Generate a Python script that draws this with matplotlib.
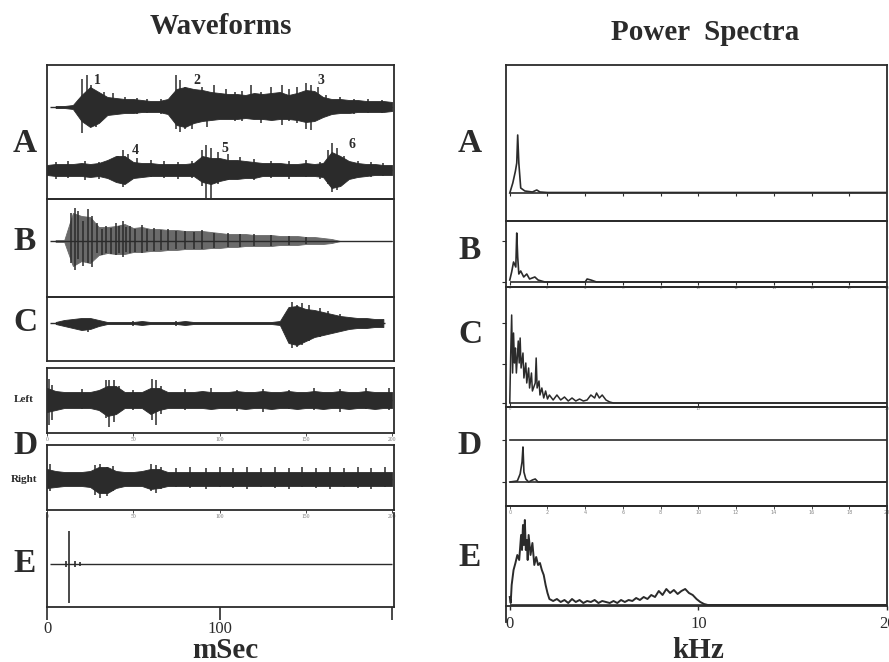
import numpy as np
import matplotlib
matplotlib.use("Agg")
import matplotlib.pyplot as plt

W, H = 889, 662
INK = "#2b2b2b"
SERIF = ["Liberation Serif", "DejaVu Serif"]

# ---------------- waveform data (amplitudes in arbitrary units) ----------------
t_ms = np.arange(0, 201, 5)

A1_up = [0, 1, 1, 2, 12, 20, 15, 10, 9, 8, 8, 7, 6, 6, 8, 18, 20, 18, 17, 15, 14,
         13, 13, 12, 14, 13, 14, 15, 12, 14, 17, 16, 10, 8, 8, 7, 7, 6, 6, 6, 5]
A1_lo = [0, 1, 1, 2, 14, 20, 16, 8, 7, 6, 6, 5, 5, 5, 7, 18, 20, 16, 14, 13, 12,
         12, 12, 11, 12, 12, 13, 12, 12, 13, 15, 14, 10, 7, 6, 6, 5, 5, 5, 5, 4]
A1_spk_t = [20.5, 23, 25.5, 28.5, 33, 38, 45, 52, 58, 66, 75, 77, 80, 84, 90, 93,
            97, 104, 109, 113, 118, 124, 130, 136, 140, 145, 150, 153, 157, 162,
            170, 178, 186, 194]
A1_spk_up = [28, 32, 22, 14, 15, 14, 10, 9, 8, 8, 32, 27, 20, 18, 20, 14,
             22, 18, 15, 16, 22, 15, 20, 22, 18, 20, 24, 22, 20, 12,
             10, 8, 8, 7]
A1_spk_dn = [26, 12, 20, 20, 8, 6, 6, 7, 6, 7, 22, 25, 22, 22, 10, 20,
             8, 10, 14, 14, 8, 16, 12, 18, 14, 16, 22, 23, 12, 8,
             6, 7, 6, 6]

A2_up = [5, 6, 6, 6, 7, 6, 7, 10, 14, 14, 8, 7, 7, 6, 6, 6, 6, 7, 14, 12, 12,
         10, 10, 9, 8, 7, 7, 7, 6, 6, 7, 6, 7, 18, 14, 9, 7, 6, 6, 5, 5]
A2_lo = [5, 6, 6, 6, 6, 7, 6, 8, 12, 14, 8, 7, 6, 6, 6, 6, 6, 6, 12, 14, 11,
         9, 9, 8, 8, 6, 6, 6, 6, 6, 6, 6, 7, 18, 16, 9, 7, 6, 5, 5, 5]
A2_spk_t = [5, 12, 22, 30, 41, 44, 47, 52, 60, 68, 76, 84, 90, 92, 95, 99, 105,
            112, 120, 130, 140, 150, 158, 163, 165, 168, 172, 180, 188, 195]
A2_spk_up = [8, 9, 9, 8, 14, 20, 16, 12, 10, 9, 8, 9, 20, 25, 22, 18, 16,
             13, 11, 9, 9, 10, 8, 20, 27, 22, 14, 9, 8, 7]
A2_spk_dn = [9, 8, 10, 9, 12, 17, 10, 8, 7, 8, 9, 8, 16, 28, 28, 14, 10,
             8, 10, 8, 9, 7, 9, 14, 22, 20, 12, 7, 7, 6]

B_up = [0, 1, 1, 28, 25, 24, 14, 14, 15, 17, 13, 14, 12, 12, 11, 11, 10, 10, 10, 9, 8,
        7, 7, 7, 6, 6, 6, 5, 5, 5, 4, 4, 3, 2, 0, 0, 0, 0, 0, 0, 0]
B_lo = [0, 1, 1, 25, 20, 22, 14, 12, 13, 13, 11, 11, 10, 10, 9, 9, 8, 8, 8, 7, 7,
        6, 6, 5, 5, 5, 5, 4, 4, 4, 3, 3, 3, 2, 0, 0, 0, 0, 0, 0, 0]
B_spk_t = [14, 16, 18, 21, 24, 26, 29, 32, 34, 37, 40, 42, 44, 46, 48, 51, 55,
           58, 62, 66, 70, 75, 80, 85, 90, 97, 105, 112, 120, 130, 140, 150]
B_spk_up = [28, 33, 30, 20, 32, 25, 18, 12, 15, 13, 18, 15, 20, 14, 15, 12, 16,
            12, 13, 11, 12, 10, 10, 9, 11, 8, 8, 7, 7, 6, 5, 4]
B_spk_dn = [22, 29, 18, 25, 22, 26, 12, 14, 12, 13, 14, 12, 16, 11, 12, 11, 12,
            10, 10, 9, 9, 8, 8, 8, 8, 7, 6, 6, 5, 5, 4, 3]

C_up = [0, 1, 3, 4, 5, 5, 3, 1, 1, 1, 1, 2, 1, 1, 1, 1, 2, 1, 1, 1, 1,
        1, 1, 1, 1, 1, 1, 2, 16, 17, 14, 13, 11, 9, 7, 6, 5, 5, 4, 4, 0]
C_lo = [0, 1, 3, 5, 7, 6, 3, 1, 1, 1, 1, 2, 1, 1, 1, 1, 2, 1, 1, 1, 1,
        1, 1, 1, 1, 1, 1, 2, 20, 22, 18, 14, 12, 10, 8, 6, 5, 5, 4, 4, 0]
C_spk_t = [24, 50, 75, 142, 145, 148, 152, 158, 163, 170]
C_spk_up = [4, 2, 2, 21, 18, 20, 18, 15, 12, 9]
C_spk_dn = [9, 3, 3, 25, 24, 22, 18, 14, 10, 8]

DL_up = [12, 9, 8, 8, 8, 8, 10, 14, 14, 8, 8, 8, 12, 12, 8, 8, 8, 8, 9, 8, 8,
         8, 9, 8, 8, 9, 8, 8, 9, 8, 8, 9, 8, 8, 9, 8, 8, 9, 8, 8, 8]
DL_lo = [12, 10, 8, 8, 8, 8, 10, 16, 14, 8, 8, 8, 14, 10, 8, 8, 8, 8, 8, 9, 8,
         8, 8, 9, 8, 8, 9, 8, 8, 9, 8, 8, 9, 8, 8, 9, 8, 8, 9, 8, 8]
DL_spk_t = [1, 3, 34, 36, 39, 42, 61, 63, 66, 20, 50, 80, 95, 110, 125, 140,
            155, 170, 185, 198]
DL_spk_up = [21, 15, 20, 20, 20, 14, 21, 20, 14, 11, 10, 11, 12, 10, 11, 10,
             12, 11, 12, 12]
DL_spk_dn = [25, 20, 18, 27, 22, 12, 20, 25, 14, 9, 10, 10, 9, 11, 12, 9,
             10, 12, 9, 10]

DR_up = [10, 8, 7, 7, 7, 8, 12, 12, 8, 7, 7, 8, 10, 10, 7, 7, 7, 7, 7, 7, 7,
         7, 7, 7, 7, 7, 7, 7, 7, 7, 7, 7, 7, 7, 7, 7, 7, 7, 7, 7, 7]
DR_lo = [9, 8, 7, 7, 7, 8, 14, 14, 9, 7, 7, 7, 10, 9, 7, 7, 7, 7, 7, 7, 7,
         7, 7, 7, 7, 7, 7, 7, 7, 7, 7, 7, 7, 7, 7, 7, 7, 7, 7, 7, 7]
DR_spk_t = [2, 28, 31, 35, 38, 60, 63, 66, 75, 83, 92, 100, 108, 116, 124, 132,
            140, 148, 156, 164, 172, 180, 188, 196]
DR_spk_up = [15, 14, 15, 12, 13, 15, 14, 12, 11, 12, 11, 12, 11, 12, 11, 12,
             11, 12, 11, 12, 11, 12, 11, 12]
DR_spk_dn = [12, 16, 19, 17, 12, 12, 14, 10, 8, 9, 10, 8, 9, 10, 8, 9,
             10, 8, 9, 10, 8, 9, 10, 8]

E_spk_t = [13, 11, 16, 19]
E_spk_up = [33, 3, 3, 2]
E_spk_dn = [39, 3, 3, 2]

# ---------------- power spectra (kHz, arbitrary power units) ----------------
SA_f = [0, 0.16, 0.3, 0.37, 0.42, 0.48, 0.58, 0.8, 1.2, 1.43, 1.6, 2.0, 20]
SA_p = [0, 10, 22, 30, 58, 30, 5, 2, 1, 3, 1, 0.5, 0.5]

SB_f = [0, 0.1, 0.2, 0.32, 0.37, 0.42, 0.48, 0.58, 0.74, 0.9, 1.05, 1.33, 1.5,
        1.86, 4.0, 4.1, 4.3, 4.6, 20]
SB_p = [2, 10, 20, 15, 49, 25, 8, 11, 5, 8, 3, 5, 2, 0, 0, 3, 2, 0, 0]

SC_f = [0.0, 0.05, 0.1, 0.15, 0.2, 0.25, 0.3, 0.35, 0.45, 0.5, 0.55, 0.6, 0.7,
        0.75, 0.85, 0.9, 1.0, 1.05, 1.15, 1.2, 1.35, 1.4, 1.45, 1.55, 1.6, 1.7,
        1.8, 1.9, 2.0, 2.1, 2.3, 2.5, 2.7, 2.9, 3.1, 3.3, 3.5, 3.7, 3.9, 4.1,
        4.3, 4.5, 4.6, 4.75, 4.9, 5.1, 5.3, 5.5, 20]
SC_p = [0, 50, 88, 30, 70, 40, 55, 30, 62, 40, 65, 35, 50, 25, 40, 20, 35, 15,
        30, 12, 20, 45, 15, 22, 8, 15, 5, 12, 4, 8, 3, 8, 3, 6, 2, 5, 2, 4, 2,
        3, 8, 5, 10, 5, 8, 3, 1, 0, 0]

SDL_f = [0, 20]
SDL_p = [0, 0]
SDR_f = [0, 0.4, 0.55, 0.65, 0.7, 0.75, 0.85, 1.0, 1.2, 1.35, 1.5, 20]
SDR_p = [0, 1, 8, 20, 35, 10, 3, 0, 2, 3, 0, 0]

SE_f = [0.0, 0.05, 0.1, 0.2, 0.3, 0.4, 0.5, 0.6, 0.65, 0.7, 0.75, 0.8, 0.85,
        0.9, 0.95, 1.0, 1.1, 1.2, 1.3, 1.4, 1.5, 1.6, 1.7, 1.8, 1.9, 2.0, 2.1,
        2.3, 2.5, 2.7, 2.9, 3.1, 3.3, 3.5, 3.7, 3.9, 4.1, 4.3, 4.5, 4.7, 4.9,
        5.1, 5.3, 5.5, 5.7, 5.9, 6.1, 6.3, 6.5, 6.7, 6.9, 7.1, 7.3, 7.5, 7.7,
        7.9, 8.1, 8.3, 8.5, 8.7, 8.9, 9.1, 9.3, 9.5, 9.7, 9.9, 10.1, 10.3,
        10.5, 20]
SE_p = [8, 2, 20, 35, 42, 50, 45, 70, 55, 80, 60, 85, 55, 65, 45, 70, 50, 62,
        40, 48, 40, 42, 35, 30, 20, 12, 6, 4, 6, 3, 5, 2, 6, 3, 5, 2, 4, 3, 5,
        2, 4, 3, 2, 4, 2, 5, 3, 5, 4, 7, 5, 8, 6, 10, 8, 14, 10, 16, 12, 15,
        11, 14, 16, 12, 10, 6, 3, 1, 0, 0]

panel_letters = ["A", "B", "C", "D", "E"]
burst_labels = ["1", "2", "3", "4", "5", "6"]
burst_t = [29, 87, 159, 51, 103, 177]
burst_y = [27, 27, 27, -43, -41, -38]
wave_ticks = [0, 100, 200]
spec_ticks = [0, 10, 20]

# ---------------- figure ----------------
fig = plt.figure(figsize=(W / 100, H / 100), dpi=100)
fig.patch.set_facecolor("white")


def add_ax(x0, y0, x1, y1):
    ax = fig.add_axes([x0 / W, 1 - y1 / H, (x1 - x0) / W, (y1 - y0) / H])
    ax.set_facecolor("none")
    for s in ax.spines.values():
        s.set_color(INK)
        s.set_linewidth(1.3)
    ax.set_xticks([])
    ax.set_yticks([])
    return ax


def draw_wave(ax, up, lo, st, su, sd, base=0, t0=0, t1=200, fill=INK):
    ax.hlines(base, t0, t1, color=INK, lw=1.0)
    ax.fill_between(t_ms, base + np.array(up), base - np.array(lo),
                    color=fill, lw=0.6, edgecolor=fill,
                    where=(t_ms >= t0) & (t_ms <= t1))
    ax.vlines(st, base - np.array(sd), base + np.array(su), color=INK, lw=1.1)


LX0, LX1 = 47, 394
lxlim = (0, (LX1 - LX0) / 1.725)


def left_ax(y0, y1, base_y):
    ax = add_ax(LX0, y0, LX1, y1)
    ax.set_xlim(*lxlim)
    ax.set_ylim(-(y1 - base_y), base_y - y0)
    return ax


def tiny_xticks(ax, ticks, labels):
    ax.set_xticks(ticks)
    ax.set_xticklabels(labels, fontsize=4, color="#777777", family=SERIF)
    ax.tick_params(axis="x", length=2, width=0.6, pad=1, colors=INK,
                   labelcolor="#777777")


# Left column
axA = left_ax(65, 199, 107)
draw_wave(axA, A1_up, A1_lo, A1_spk_t, A1_spk_up, A1_spk_dn, base=0, t0=2)
draw_wave(axA, A2_up, A2_lo, A2_spk_t, A2_spk_up, A2_spk_dn, base=-63)
for lab, tx, ty in zip(burst_labels, burst_t, burst_y):
    axA.text(tx, ty, lab, fontsize=10, fontweight="bold", family=SERIF,
             color=INK, ha="center", va="center")

axB = left_ax(199, 297, 241)
draw_wave(axB, B_up, B_lo, B_spk_t, B_spk_up, B_spk_dn, t0=2, fill="#6a6a6a")

axC = left_ax(297, 361, 323)
draw_wave(axC, C_up, C_lo, C_spk_t, C_spk_up, C_spk_dn, t0=2, t1=196)

axDL = left_ax(368, 433, 400)
draw_wave(axDL, DL_up, DL_lo, DL_spk_t, DL_spk_up, DL_spk_dn)
tiny_xticks(axDL, [0, 50, 100, 150, 200], ["0", "50", "100", "150", "200"])

axDR = left_ax(445, 510, 479)
draw_wave(axDR, DR_up, DR_lo, DR_spk_t, DR_spk_up, DR_spk_dn)
tiny_xticks(axDR, [0, 50, 100, 150, 200], ["0", "50", "100", "150", "200"])

axE = left_ax(513, 607, 564)
axE.spines["top"].set_visible(False)
axE.hlines(0, 2, 200, color=INK, lw=1.0)
axE.vlines(E_spk_t, -np.array(E_spk_dn), E_spk_up, color=INK, lw=1.2)
axE.set_xticks(wave_ticks)
axE.set_xticklabels(["0", "100", ""], fontsize=12, family=SERIF, color=INK)
axE.tick_params(axis="x", length=9, width=1.2, pad=1, colors=INK)

# Right column
RX0, RX1 = 506, 887
rxlim = (-0.2, 20)


def right_ax(y0, y1, base_y):
    ax = add_ax(RX0, y0, RX1, y1)
    ax.set_xlim(*rxlim)
    ax.set_ylim(-(y1 - base_y), base_y - y0)
    ax.hlines(0, 0, 20, color=INK, lw=1.2)
    return ax


def spec_ticks_small(ax, step_ticks, ypos=0, labels=True):
    for t in step_ticks:
        ax.vlines(t, ypos - 3, ypos, color=INK, lw=0.8)
        if labels:
            ax.text(t, ypos - 4, f"{t}", fontsize=3.5, color="#888888",
                    ha="center", va="top", family=SERIF)


sA = right_ax(65, 221, 193)
sA.plot(SA_f, SA_p, color=INK, lw=1.2)
spec_ticks_small(sA, list(range(0, 21, 2)), labels=False)

sB = right_ax(221, 287, 282)
sB.plot(SB_f, SB_p, color=INK, lw=1.2)
spec_ticks_small(sB, list(range(0, 21, 2)))
sB.set_yticks([0, 41])
sB.tick_params(axis="y", length=3, width=0.8, labelleft=False, colors=INK)

sC = right_ax(287, 407, 403)
sC.plot(SC_f, SC_p, color=INK, lw=1.1)
spec_ticks_small(sC, spec_ticks)
sC.set_yticks([0, 39, 80])
sC.tick_params(axis="y", length=3, width=0.8, labelleft=False, colors=INK)

sD = right_ax(407, 506, 482)
sD.plot(SDR_f, SDR_p, color=INK, lw=1.2)
sD.plot(SDL_f, np.array(SDL_p) + 42, color=INK, lw=1.2)
sD.set_xticks(list(range(0, 21, 2)))
sD.set_xticklabels([str(v) for v in range(0, 21, 2)], fontsize=3.5)
sD.tick_params(axis="x", length=2, width=0.6, pad=1, colors=INK,
               labelcolor="#888888")
sD.set_yticks([0, 42])
sD.tick_params(axis="y", length=3, width=0.8, labelleft=False, colors=INK)

sE = right_ax(506, 606, 605)
sE.plot(SE_f, SE_p, color=INK, lw=1.4)
sE.spines["left"].set_bounds(-17, 99)
sE.set_xticks(spec_ticks)
sE.set_xticklabels([str(v) for v in spec_ticks], fontsize=12, family=SERIF,
                   color=INK)
sE.tick_params(axis="x", length=3, width=1, pad=4, colors=INK)

# Axis titles
fig.text(225 / W, 1 - 650 / H, "mSec", fontsize=21, fontweight="bold",
         family=SERIF, color=INK, ha="center", va="center")
fig.text(698 / W, 1 - 650 / H, "kHz", fontsize=21, fontweight="bold",
         family=SERIF, color=INK, ha="center", va="center")

# Titles and panel letters
fig.text(221 / W, 1 - 26 / H, "Waveforms", fontsize=21, fontweight="bold",
         family=SERIF, color=INK, ha="center", va="center")
fig.text(705 / W, 1 - 33 / H, "Power  Spectra", fontsize=21, fontweight="bold",
         family=SERIF, color=INK, ha="center", va="center")

left_letter_y = [143, 242, 322, 445, 563]
right_letter_y = [143, 250, 335, 445, 558]
for lab, ly, ry in zip(panel_letters, left_letter_y, right_letter_y):
    fig.text(25 / W, 1 - ly / H, lab, fontsize=24, fontweight="bold",
             family=SERIF, color=INK, ha="center", va="center")
    fig.text(470 / W, 1 - ry / H, lab, fontsize=24, fontweight="bold",
             family=SERIF, color=INK, ha="center", va="center")

fig.text(24 / W, 1 - 400 / H, "Left", fontsize=8, fontweight="bold",
         family=SERIF, color=INK, ha="center", va="center")
fig.text(24 / W, 1 - 480 / H, "Right", fontsize=8, fontweight="bold",
         family=SERIF, color=INK, ha="center", va="center")

fig.savefig("out.png", dpi=100, facecolor="white")
